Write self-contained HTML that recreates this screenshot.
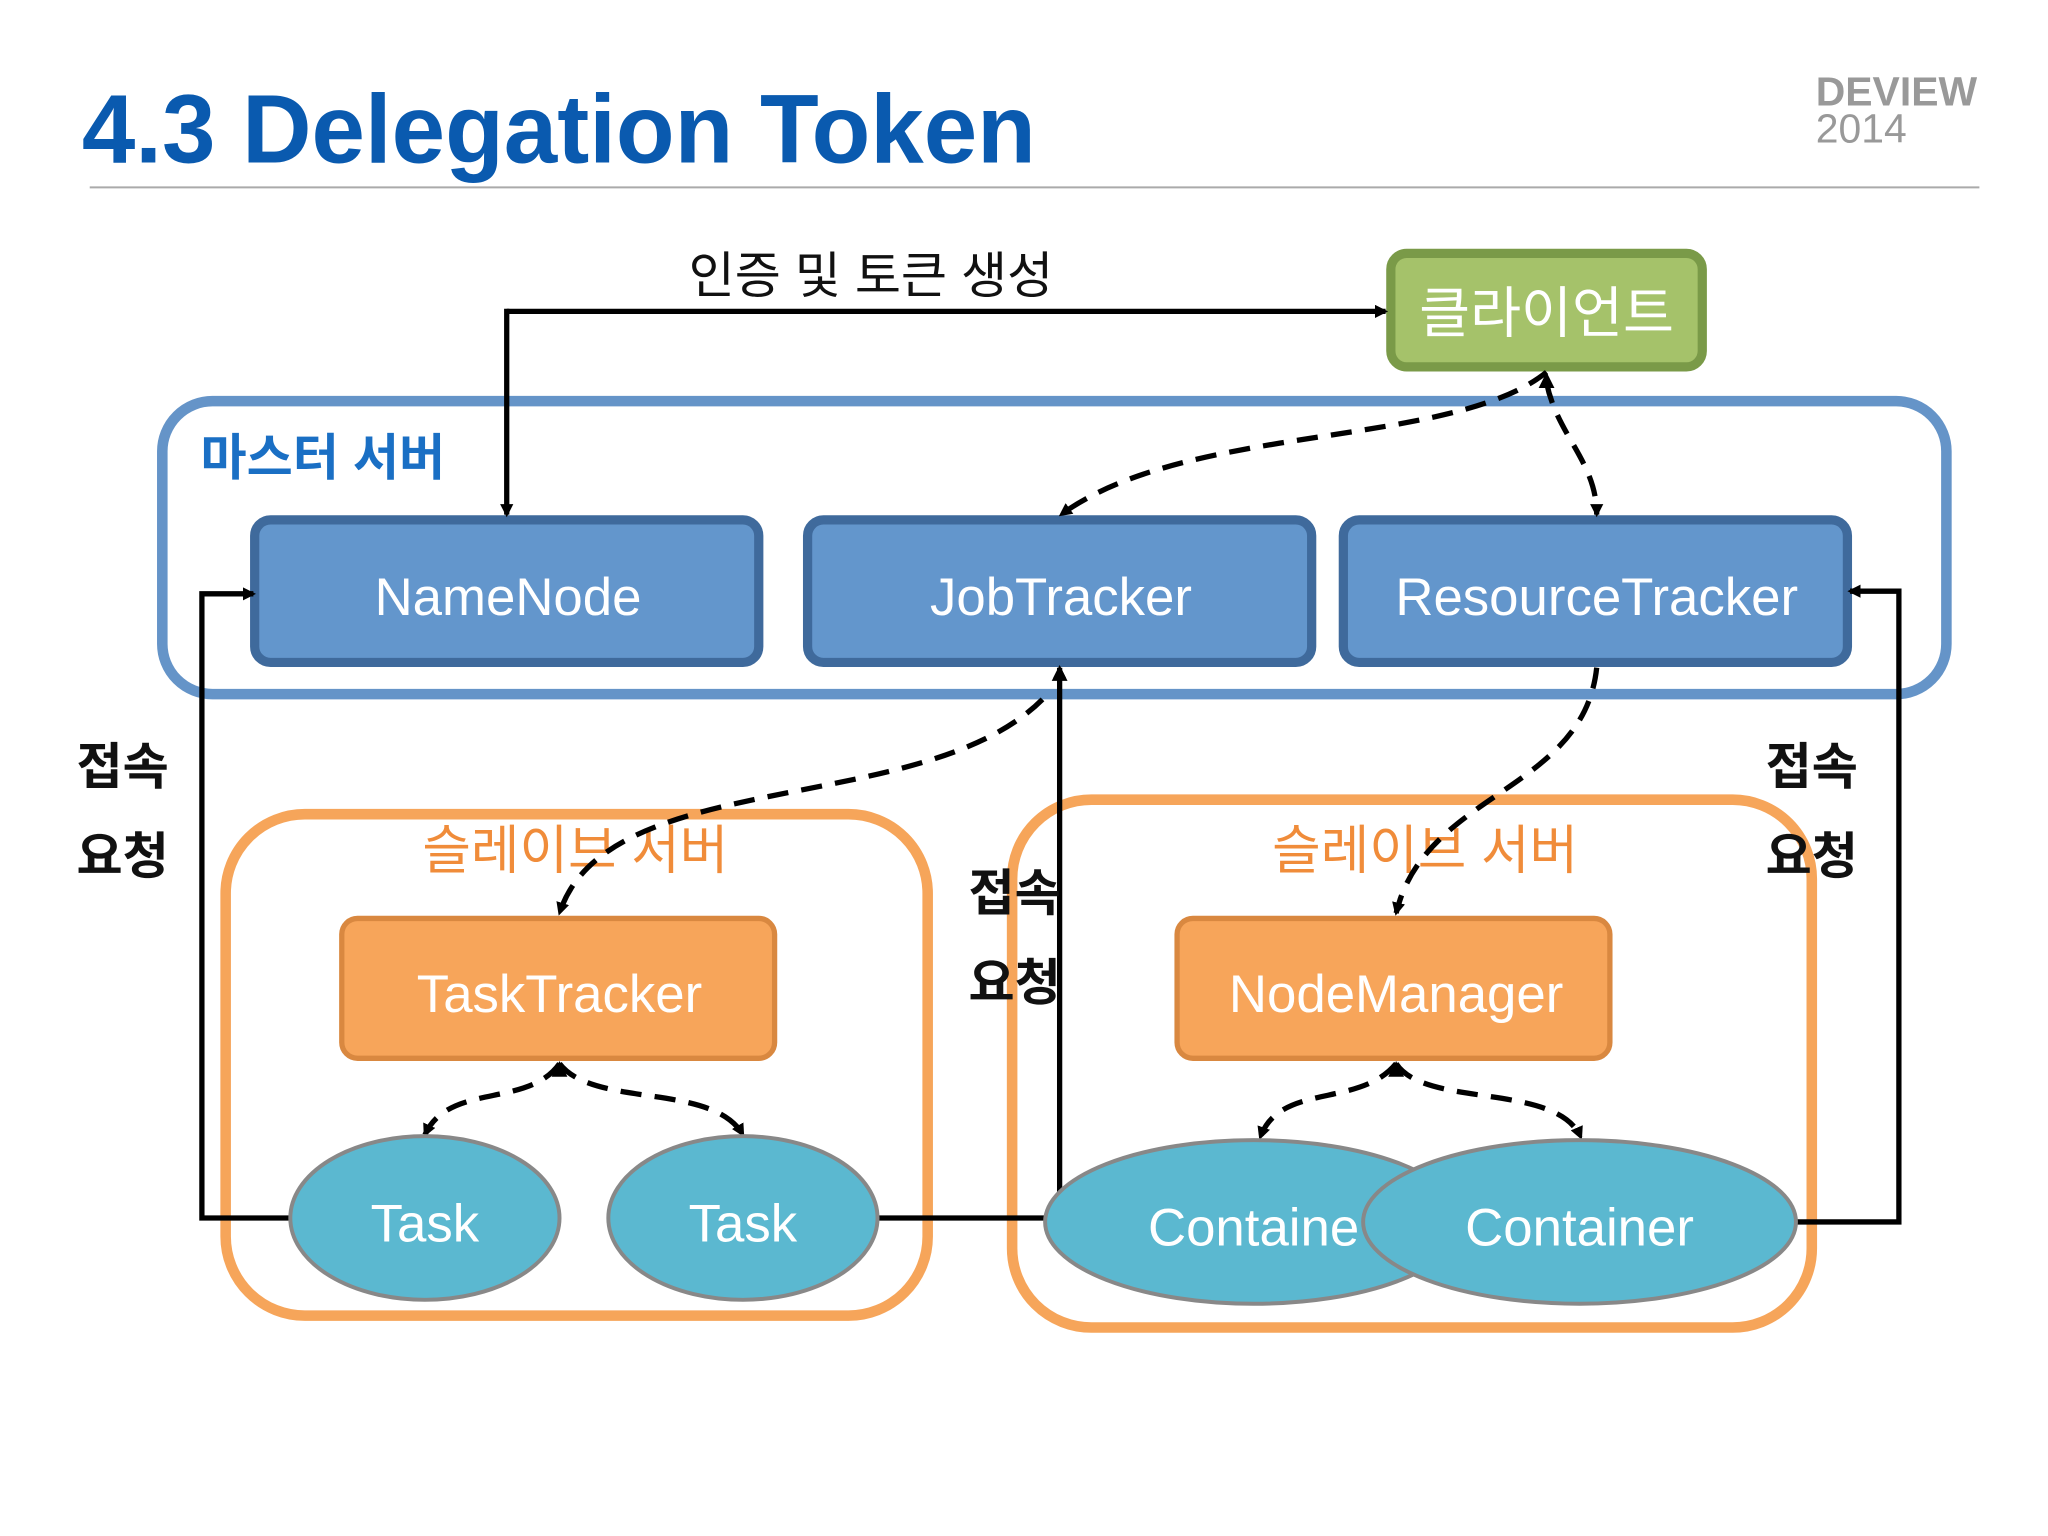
<!DOCTYPE html>
<html><head><meta charset="utf-8"><style>
html,body{margin:0;padding:0;background:#fff}
svg{display:block}
text{font-family:"Liberation Sans","Noto Sans CJK KR",sans-serif}
</style></head><body>
<svg width="2048" height="1536" viewBox="0 0 1552 1164" xmlns="http://www.w3.org/2000/svg">
<defs>
<marker id="ah" markerWidth="10" markerHeight="10" refX="8" refY="5" orient="auto" markerUnits="userSpaceOnUse"><path d="M0,0 L10,5 L0,10 z" fill="#000"/></marker>
</defs>
<rect width="1552" height="1164" fill="#fff"/>
<text x="62" y="123" font-size="74" font-weight="bold" fill="#0a5aaf" textLength="723" lengthAdjust="spacingAndGlyphs">4.3 Delegation Token</text>
<text x="1376" y="80" font-size="31" font-weight="bold" fill="#999">DEVIEW</text>
<text x="1376" y="108" font-size="31" fill="#999">2014</text>
<line x1="68" y1="142" x2="1500" y2="142" stroke="#aaa" stroke-width="1.5"/>

<rect x="123" y="304" width="1352" height="222" rx="38" fill="none" stroke="#6594c8" stroke-width="8"/>
<text x="152" y="360" font-size="38" font-weight="bold" fill="#1a6fc4">마스터 서버</text>
<rect x="171" y="617" width="532" height="380" rx="60" fill="none" stroke="#f6a55a" stroke-width="8"/>
<rect x="767" y="606" width="606" height="400" rx="60" fill="none" stroke="#f6a55a" stroke-width="8"/>
<text x="436" y="658" font-size="40" text-anchor="middle" fill="#f08c3a">슬레이브 서버</text>
<text x="1080" y="658" font-size="40" text-anchor="middle" fill="#f08c3a">슬레이브 서버</text>

<rect x="1054" y="192" width="236" height="86" rx="12" fill="#a5c26a" stroke="#7a9a48" stroke-width="7"/>
<text x="1172" y="252" font-size="42" text-anchor="middle" fill="#fff">클라이언트</text>

<g fill="#6396cc" stroke="#3f6a9c" stroke-width="7">
<rect x="193" y="394" width="382" height="108" rx="12"/>
<rect x="612" y="394" width="382" height="108" rx="12"/>
<rect x="1018" y="394" width="382" height="108" rx="12"/>
</g>
<g font-size="40" fill="#fff" text-anchor="middle">
<text x="385" y="466">NameNode</text>
<text x="804" y="466">JobTracker</text>
<text x="1210" y="466">ResourceTracker</text>
</g>

<rect x="259" y="696" width="328" height="106" rx="12" fill="#f7a55a" stroke="#d98840" stroke-width="4"/>
<rect x="892" y="696" width="328" height="106" rx="12" fill="#f7a55a" stroke="#d98840" stroke-width="4"/>
<text x="424" y="767" font-size="40" text-anchor="middle" fill="#fff">TaskTracker</text>
<text x="1058" y="767" font-size="40" text-anchor="middle" fill="#fff">NodeManager</text>

<g fill="none" stroke="#000" stroke-width="4">
<path d="M384,236 L1050,236" marker-end="url(#ah)"/>
<path d="M384,234 L384,390" marker-end="url(#ah)"/>
<path d="M222,923 L153,923 L153,450 L192,450" marker-end="url(#ah)"/>
<path d="M664,923 L803,923 L803,506" marker-end="url(#ah)"/>
<path d="M1360,926 L1439,926 L1439,448 L1402,448" marker-end="url(#ah)"/>
</g>
<g fill="none" stroke="#000" stroke-width="4" stroke-dasharray="16,10">
<path d="M1172,282 C1100,340 900,320 804,390" marker-end="url(#ah)"/>
<path d="M1172,290 C1180,330 1210,350 1210,390" marker-end="url(#ah)"/>
<path d="M1210,506 C1200,600 1080,600 1058,692" marker-end="url(#ah)"/>
<path d="M790,530 C700,620 460,580 424,692" marker-end="url(#ah)"/>
<path d="M424,806 C400,840 340,820 322,860" marker-end="url(#ah)"/>
<path d="M424,806 C450,840 540,820 563,860" marker-end="url(#ah)"/>
<path d="M1058,806 C1030,840 970,820 955,862" marker-end="url(#ah)"/>
<path d="M1058,806 C1080,840 1180,820 1198,862" marker-end="url(#ah)"/>
</g>
<path d="M1172,282 l-6,12 l12,0 z" fill="#000"/>
<path d="M803,504 l-6,12 l12,0 z" fill="#000"/>
<path d="M424,804 l-6,12 l12,0 z" fill="#000"/>
<path d="M1058,804 l-6,12 l12,0 z" fill="#000"/>

<g fill="#5bb8d0" stroke="#888" stroke-width="3">
<ellipse cx="322" cy="923" rx="102" ry="62"/>
<ellipse cx="563" cy="923" rx="102" ry="62"/>
<ellipse cx="950" cy="926" rx="158" ry="62"/>
<ellipse cx="1197" cy="926" rx="164" ry="62"/>
</g>
<g font-size="40" fill="#fff" text-anchor="middle">
<text x="322" y="941">Task</text>
<text x="563" y="941">Task</text>
<text x="950" y="944">Containe</text>
<text x="1197" y="944">Container</text>
</g>

<g font-size="38" font-weight="bold" fill="#111">
<text x="58" y="594">접속</text>
<text x="58" y="662">요청</text>
<text x="1338" y="594">접속</text>
<text x="1338" y="662">요청</text>
<text x="734" y="690">접속</text>
<text x="734" y="758">요청</text>
</g>
<text x="660" y="222" font-size="38" text-anchor="middle" fill="#111">인증 및 토큰 생성</text>
</svg>
</body></html>
